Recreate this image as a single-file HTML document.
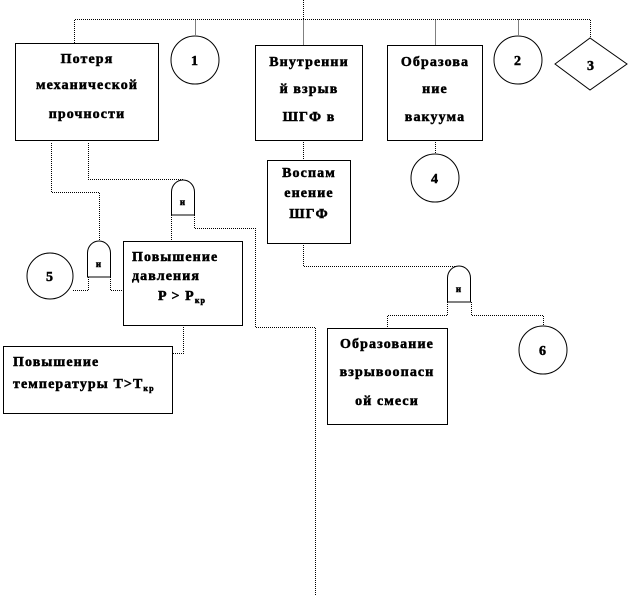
<!DOCTYPE html>
<html><head><meta charset="utf-8"><style>
html,body{margin:0;padding:0;background:#fff;width:631px;height:595px;overflow:hidden}
svg text{font-family:"Liberation Serif",serif;font-weight:bold;font-size:14px;fill:#000;stroke:#000;stroke-width:0.5;letter-spacing:1.1px}
</style></head><body>
<svg width="631" height="595" viewBox="0 0 631 595" xmlns="http://www.w3.org/2000/svg">
<g fill="none" stroke="#000" stroke-width="1" stroke-dasharray="1 1">
<path d="M303.5 0V19.5M74.5 43V19.5H590.5V38M195.5 19.5V36M303.5 19.5V45M435.5 19.5V45M518.5 19.5V36"/>
<path d="M435.5 140V154M303.5 140V160"/>
<path d="M303.5 243V266.5H458"/>
<path d="M447.5 302V315.5H387.5V329M471.5 302V315.5H543.5V326"/>
<path d="M51.5 143V192.5H99.5V241M88.5 143V179.5H183"/>
<path d="M171.5 215V241M194.5 215V228.5H255.5V327.5H315.5V595"/>
<path d="M73 290.5H88.5V277M110.5 277V290.5H123"/>
<path d="M183.5 325V353.5H172"/>
</g>
<g fill="#fff" stroke="#000" stroke-width="1">
<rect x="15.5" y="43.5" width="143" height="97"/>
<rect x="255.5" y="45.5" width="107" height="95"/>
<rect x="387.5" y="45.5" width="95" height="95"/>
<rect x="267.5" y="160.5" width="83" height="83"/>
<rect x="327.5" y="328.5" width="120" height="96"/>
<rect x="123.5" y="241.5" width="119" height="84"/>
<rect x="3.5" y="346.5" width="169" height="67"/>
<circle cx="195" cy="60" r="24"/>
<circle cx="518" cy="60" r="24"/>
<circle cx="435" cy="178" r="24"/>
<circle cx="543" cy="350" r="24"/>
<circle cx="50" cy="276" r="23"/>
<polygon points="555,64 590,38 627,64 590,90"/>
<path d="M447.5 302V278A11.5 12 0 0 1 470.5 278V302Z"/>
<path d="M171.5 215V192A11.5 12 0 0 1 194.5 192V215Z"/>
<path d="M87.5 277V253A11.5 12 0 0 1 110.5 253V277Z"/>
</g>
<g text-anchor="middle">
<text x="87" y="63">Потеря</text>
<text x="87" y="89">механической</text>
<text x="87" y="118">прочности</text>
<text x="309" y="66">Внутренни</text>
<text x="309" y="93">й взрыв</text>
<text x="309" y="121">ШГФ в</text>
<text x="435" y="66">Образова</text>
<text x="435" y="93">ние</text>
<text x="435" y="121">вакуума</text>
<text x="309" y="177">Воспам</text>
<text x="309" y="197">енение</text>
<text x="309" y="218">ШГФ</text>
<text x="387" y="348">Образование</text>
<text x="387" y="376">взрывоопасн</text>
<text x="387" y="405">ой смеси</text>
<text x="195" y="65">1</text>
<text x="518" y="65">2</text>
<text x="591" y="70">3</text>
<text x="435" y="183">4</text>
<text x="50" y="281">5</text>
<text x="543" y="355">6</text>
<text x="459" y="292" style="font-size:9px">и</text>
<text x="183" y="205" style="font-size:9px">и</text>
<text x="99" y="267" style="font-size:9px">и</text>
</g>
<text x="132" y="261">Повышение</text>
<text x="132" y="280">давления</text>
<text x="158" y="300">P &gt; P<tspan dy="3" style="font-size:8px">кр</tspan></text>
<text x="13" y="366">Повышение</text>
<text x="13" y="388">температуры T&gt;T<tspan dy="3" style="font-size:8px">кр</tspan></text>
</svg>
</body></html>
